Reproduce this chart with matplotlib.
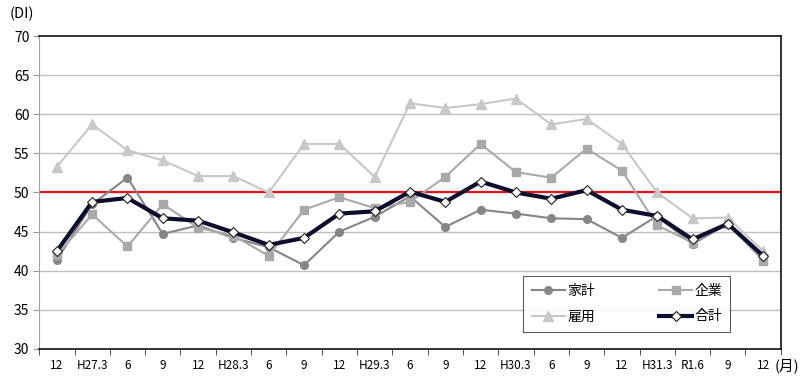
import matplotlib
matplotlib.use("Agg")
import matplotlib.pyplot as plt
import numpy as np

plt.rcParams['font.family'] = ['Noto Sans CJK JP', 'DejaVu Sans']

categories = ["12", "H27.3", "6", "9", "12", "H28.3", "6", "9", "12", "H29.3",
              "6", "9", "12", "H30.3", "6", "9", "12", "H31.3", "R1.6", "9", "12"]
kakei = [41.4, 48.5, 51.9, 44.7, 45.8, 44.2, 43.0, 40.7, 45.0, 46.9,
         49.5, 45.6, 47.8, 47.3, 46.7, 46.6, 44.2, 47.0, 43.4, 46.0, 41.7]
kigyo = [42.0, 47.2, 43.1, 48.5, 45.5, 44.5, 41.9, 47.8, 49.4, 48.0,
         48.8, 52.0, 56.2, 52.6, 51.9, 55.6, 52.8, 45.8, 43.6, 46.0, 41.3]
koyo = [53.3, 58.7, 55.4, 54.1, 52.1, 52.1, 50.0, 56.2, 56.2, 52.0,
        61.4, 60.8, 61.3, 62.0, 58.7, 59.4, 56.2, 50.0, 46.7, 46.8, 42.5]
gokei = [42.5, 48.8, 49.3, 46.7, 46.4, 44.9, 43.3, 44.2, 47.3, 47.6,
         50.1, 48.8, 51.4, 50.0, 49.2, 50.3, 47.8, 47.0, 44.0, 46.0, 41.9]

fig = plt.figure(figsize=(8, 3.77), dpi=100)
ax = fig.add_axes([0.049, 0.0743, 0.927, 0.8302])

x = np.arange(len(categories))
ax.set_xlim(-0.5, len(categories) - 0.5)
ax.set_ylim(30, 70)

for yv in range(35, 70, 5):
    ax.axhline(yv, color='#c0c0c0', lw=1.0, zorder=0)
ax.axhline(50, color='#e0161c', lw=1.6, zorder=1)

l1, = ax.plot(x, kakei, color='#868686', lw=1.5, marker='o', ms=5.5, label='家計', zorder=3)
l2, = ax.plot(x, kigyo, color='#a9a9a9', lw=1.5, marker='s', ms=5.5, label='企業', zorder=3)
l3, = ax.plot(x, koyo, color='#c8c8c8', lw=1.5, marker='^', ms=6.5, label='雇用', zorder=2)
l4, = ax.plot(x, gokei, color='#0d0d2e', lw=3.0, marker='D', ms=5.5, mfc='white',
              mec='#202020', mew=0.8, label='合計', zorder=4)

ax.set_xticks(x)
ax.set_xticklabels(categories, fontsize=8.5)
ax.set_xticks(np.arange(-0.5, len(categories), 1), minor=True)
ax.tick_params(axis='x', which='major', length=0, pad=7)
ax.tick_params(axis='x', which='minor', length=4, direction='out', color='#333333')
ax.set_yticks(range(30, 75, 5))
ax.tick_params(axis='y', labelsize=10, length=4, color='#999999', pad=3)

for s in ['top', 'right', 'bottom']:
    ax.spines[s].set_color('#111111')
    ax.spines[s].set_linewidth(1.2)
ax.spines['left'].set_color('#a0a0a0')

leg = ax.legend([l1, l3, l2, l4], ['家計', '雇用', '企業', '合計'], ncol=2,
                loc='lower left', bbox_to_anchor=(0.653, 0.055), fontsize=10,
                frameon=True, fancybox=False, edgecolor='#333333',
                handlelength=2.4, columnspacing=4.6, borderpad=0.6,
                labelspacing=0.8, handletextpad=0.15, borderaxespad=0)
leg.get_frame().set_linewidth(0.8)

fig.text(0.012, 0.945, '(DI)', fontsize=10.5, ha='left', va='bottom')
fig.text(0.999, 0.03, '(月)', fontsize=10.5, ha='right', va='center')

fig.savefig('out.png', dpi=100, facecolor='white')
